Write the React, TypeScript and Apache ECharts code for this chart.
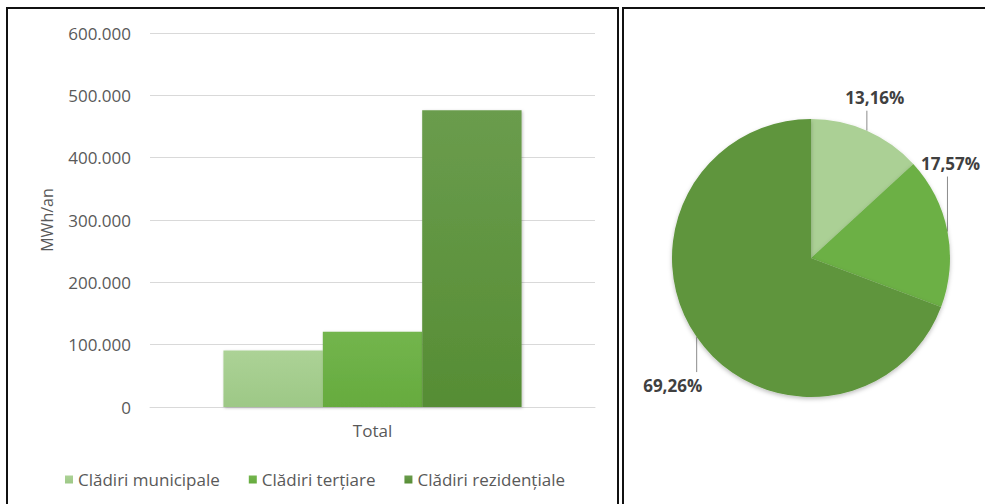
import React, { useEffect, useRef } from "react";
import * as echarts from "echarts";

const categories = ["Total"];
const seriesNames = ["Clădiri municipale", "Clădiri terțiare", "Clădiri rezidențiale"];
const seriesValues = [90450, 120750, 475900];
const yTicks = [0, 100000, 200000, 300000, 400000, 500000, 600000];
const yAxisName = "MWh/an";

const colorsTop = ["#acd296", "#73b54d", "#6a9c4d"];
const colorsBottom = ["#9dc886", "#66ab3e", "#568d34"];
const pieColors = ["#abd095", "#6cb045", "#5e953c"];

// label leader lengths (negative = up), horizontal text offset
const leaderLen = [-20, -55, 35];
const labelDx = [8, 3, -24];

const fmtThousands = (v: number) =>
  String(v).replace(/\B(?=(\d{3})+(?!\d))/g, ".");

export default function App() {
  const ref = useRef<HTMLDivElement>(null);
  useEffect(() => {
    if (!ref.current) return;
    const chart = echarts.init(ref.current, null, { renderer: "svg" });
    const total = seriesValues.reduce((a, b) => a + b, 0);
    const font = "'Open Sans', sans-serif";
    chart.setOption({
      animation: false,
      backgroundColor: "#ffffff",
      textStyle: { fontFamily: font },
      graphic: [
        {
          type: "rect",
          shape: { x: 7, y: 8, width: 611, height: 520 },
          style: { fill: "none", stroke: "#111", lineWidth: 2 },
          silent: true,
        },
        {
          type: "rect",
          shape: { x: 623, y: 8, width: 420, height: 520 },
          style: { fill: "none", stroke: "#111", lineWidth: 2 },
          silent: true,
        },
      ],
      legend: {
        data: seriesNames,
        left: 60,
        top: 466,
        itemWidth: 8,
        itemHeight: 8,
        itemGap: 29,
        icon: "rect",
        textStyle: { color: "#595959", fontSize: 17, fontFamily: font },
      },
      grid: { left: 150, right: 390, top: 33, bottom: 97 },
      xAxis: {
        type: "category",
        data: categories,
        axisLine: { show: true, lineStyle: { color: "#d9d9d9" } },
        axisTick: { show: false },
        axisLabel: { color: "#595959", fontSize: 17, margin: 15 },
      },
      yAxis: {
        type: "value",
        min: yTicks[0],
        max: yTicks[yTicks.length - 1],
        interval: yTicks[1] - yTicks[0],
        name: yAxisName,
        nameLocation: "middle",
        nameRotate: 90,
        nameGap: 95,
        nameTextStyle: { color: "#595959", fontSize: 16 },
        axisLine: { show: false },
        axisTick: { show: false },
        splitLine: { lineStyle: { color: "#d9d9d9", width: 1 } },
        axisLabel: {
          color: "#595959",
          fontSize: 17,
          margin: 19,
          formatter: (v: number) => fmtThousands(v),
        },
      },
      series: [
        ...seriesNames.map((name, i) => ({
          type: "bar",
          name,
          data: [seriesValues[i]],
          barGap: "0%",
          barCategoryGap: "33%",
          itemStyle: {
            color: new echarts.graphic.LinearGradient(0, 0, 0, 1, [
              { offset: 0, color: colorsTop[i] },
              { offset: 1, color: colorsBottom[i] },
            ]),
            shadowBlur: 3,
            shadowColor: "rgba(0,0,0,0.25)",
            shadowOffsetX: 1,
            shadowOffsetY: 1,
          },
        })),
        {
          type: "pie",
          center: [811, 258],
          radius: 139,
          startAngle: 90,
          clockwise: true,
          avoidLabelOverlap: false,
          data: seriesNames.map((name, i) => ({
            name,
            value: seriesValues[i],
            itemStyle: { color: pieColors[i] },
          })),
          itemStyle: {
            shadowBlur: 4,
            shadowColor: "rgba(0,0,0,0.25)",
            shadowOffsetY: 2,
          },
          label: {
            show: true,
            position: "outside",
            overflow: "none",
            formatter: (p: any) =>
              ((p.value / total) * 100).toFixed(2).replace(".", ",") + "%",
            color: "#404040",
            fontSize: 17,
            fontWeight: "bold",
            fontFamily: font,
          },
          labelLine: {
            show: true,
            length: 10,
            length2: 10,
            lineStyle: { color: "#8c8c8c", width: 1 },
          },
          labelLayout: (params: any) => {
            const i = params.dataIndex;
            const pts = params.labelLinePoints;
            if (!pts) return {};
            const p0 = pts[0];
            const len = leaderLen[i];
            const end = [p0[0], p0[1] + len];
            const sign = len < 0 ? -1 : 1;
            return {
              x: p0[0] + labelDx[i],
              y: end[1] + sign * 13,
              align: "center",
              verticalAlign: "middle",
              labelLinePoints: [p0, end, end],
            };
          },
        },
      ],
    });
    return () => chart.dispose();
  }, []);
  return (
    <div
      ref={ref}
      style={{ position: "absolute", left: 0, top: 0, width: 985, height: 504 }}
    />
  );
}
